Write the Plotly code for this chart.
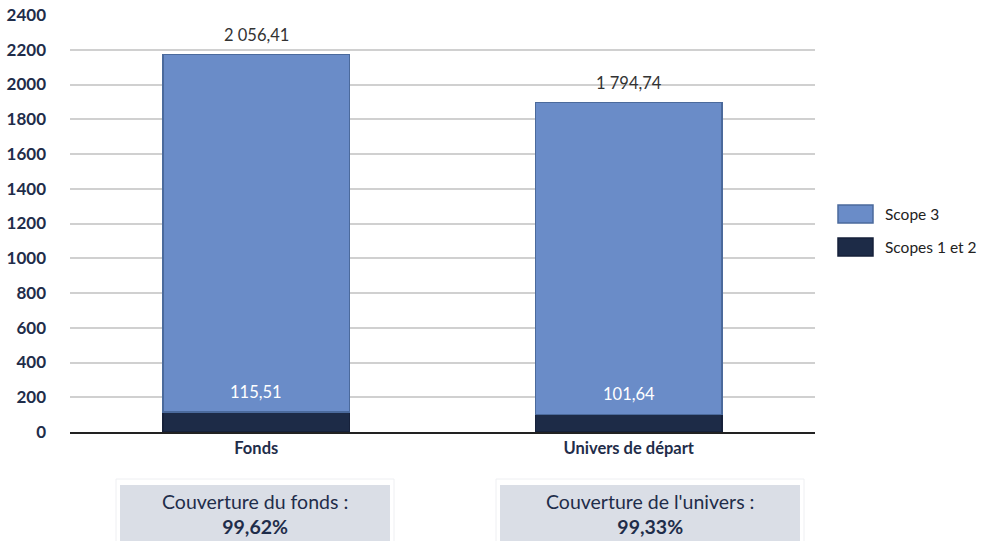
import plotly.graph_objects as go

categories = ["Fonds", "Univers de départ"]
scopes_1_2 = [115.51, 101.64]
scope_3 = [2056.41, 1794.74]
coverage_titles = ["Couverture du fonds :", "Couverture de l'univers :"]
coverage_values = ["99,62%", "99,33%"]
y_ticks = list(range(0, 2401, 200))

NAVY = "#1d2b47"
BLUE = "#6a8cc8"
TEXT = "#1f2d4a"
FONT = "Lato"


def fr(v):
    s = f"{v:,.2f}"
    return s.replace(",", " ").replace(".", ",")


fig = go.Figure()
fig.add_trace(go.Bar(
    x=categories, y=scopes_1_2, name="Scopes 1 et 2",
    marker=dict(color=NAVY, line=dict(color="#16213a", width=1.5)),
    showlegend=False, hoverinfo="y+name",
))
fig.add_trace(go.Bar(
    x=categories, y=scope_3, name="Scope 3",
    marker=dict(color=BLUE, line=dict(color="#4b6a9c", width=1.5)),
    showlegend=False, hoverinfo="y+name",
))

annotations = []
for c, a, b in zip(categories, scopes_1_2, scope_3):
    annotations.append(dict(x=c, y=a, text=fr(a), showarrow=False, yshift=20,
                            font=dict(family=FONT, size=16.5, color="white")))
    annotations.append(dict(x=c, y=a + b, text=fr(b), showarrow=False, yshift=20,
                            font=dict(family=FONT, size=16.5, color="#333333")))

shapes = []
box_x = [(120, 390), (500, 800)]
L, R, T, B = 70, 167, 15, 109
W, H = 982, 541
pw, ph = W - L - R, H - T - B


def px(xp):
    return (xp - L) / pw


def py(yp):
    return (H - B - yp) / ph


for (x0, x1), t, v in zip(box_x, coverage_titles, coverage_values):
    shapes.append(dict(type="rect", xref="paper", yref="paper",
                       x0=px(x0 - 4), x1=px(x1 + 4), y0=py(545), y1=py(479),
                       line=dict(color="#eeeff2", width=1), fillcolor="white", layer="below"))
    shapes.append(dict(type="rect", xref="paper", yref="paper",
                       x0=px(x0), x1=px(x1), y0=py(545), y1=py(485),
                       line=dict(width=0), fillcolor="#dadee6", layer="below"))
    annotations.append(dict(xref="paper", yref="paper", x=px((x0 + x1) / 2), y=py(514),
                            text=f"{t}<br><b>{v}</b>", showarrow=False, align="center",
                            xanchor="center", yanchor="middle",
                            font=dict(family=FONT, size=19.5, color=TEXT)))

legend_items = [("Scope 3", BLUE, "#4b6a9c", 214), ("Scopes 1 et 2", NAVY, "#16213a", 247)]
for name, col, lc, yc in legend_items:
    shapes.append(dict(type="rect", xref="paper", yref="paper",
                       x0=px(838), x1=px(873), y0=py(yc + 9), y1=py(yc - 9),
                       line=dict(color=lc, width=1.5), fillcolor=col))
    annotations.append(dict(xref="paper", yref="paper", x=px(883), y=py(yc),
                            text=name, showarrow=False, xanchor="left", yanchor="middle",
                            font=dict(family=FONT, size=15.5, color="#222222")))

fig.update_layout(
    barmode="stack",
    bargap=0.5,
    width=W, height=H,
    margin=dict(l=L, r=R, t=T, b=B, autoexpand=False),
    plot_bgcolor="white", paper_bgcolor="white",
    annotations=annotations, shapes=shapes,
    font=dict(family=FONT, color=TEXT),
    xaxis=dict(showgrid=False, showline=True, linecolor="#222222", linewidth=2,
               ticks="", tickfont=dict(family=FONT, size=16.5, color=TEXT, weight="bold"),
               automargin=False, fixedrange=True),
    yaxis=dict(range=[0, 2400], tickvals=y_ticks, showgrid=True, gridcolor="#d0d0d0",
               gridwidth=2, zeroline=False, showline=False, ticks="",
               tickfont=dict(family=FONT, size=17, color=TEXT, weight="bold"),
               ticklabelstandoff=23, automargin=False, fixedrange=True),
)

fig.write_html("out.html", config={"displayModeBar": False},
               post_script="document.body.style.margin='0px';document.body.style.overflow='hidden';")
